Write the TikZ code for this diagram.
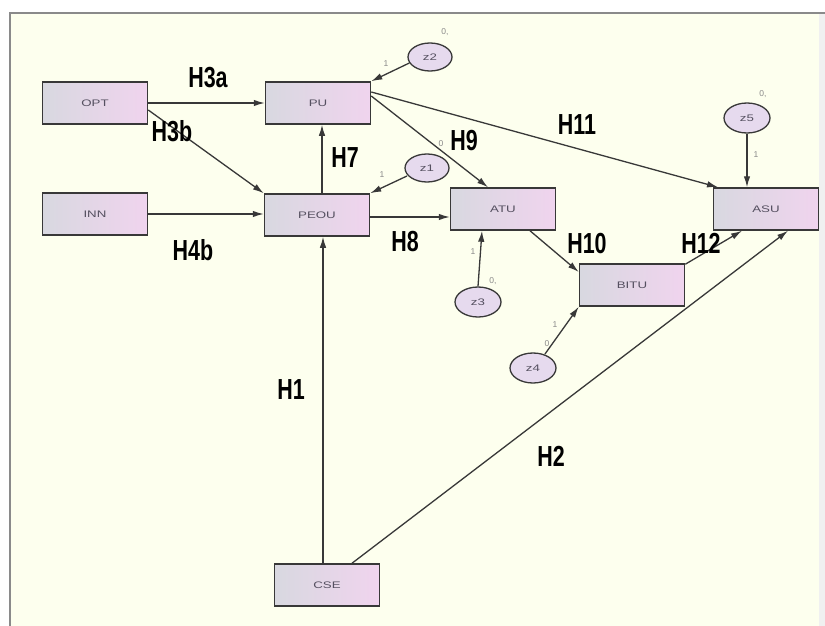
\documentclass[tikz,border=0pt]{standalone}
\usepackage{fontspec}
\usepackage{graphicx}
\setmainfont{Liberation Sans}
\usetikzlibrary{arrows.meta,shapes.geometric}
\definecolor{paper}{HTML}{FDFFEE}
\definecolor{frame}{HTML}{8A8A8A}
\definecolor{edge}{HTML}{383838}
\definecolor{boxleft}{HTML}{D8D8E0}
\definecolor{boxright}{HTML}{F0D4EE}
\definecolor{ovalfill}{HTML}{E6DAEE}
\definecolor{smalltxt}{HTML}{555060}
\newcommand{\vartxt}[1]{\scalebox{1.4}[1]{\fontsize{9.5}{9.5}\selectfont #1}}
\newcommand{\hyp}[1]{\scalebox{0.74}[1]{\fontsize{29}{29}\selectfont\bfseries #1}}
\tikzset{
  varbox/.style={draw=edge, line width=1.5pt, minimum width=105pt, minimum height=42pt,
    left color=boxleft, right color=boxright, text=smalltxt, inner sep=0pt},
  errov/.style={ellipse, draw=edge, line width=1.3pt, fill=ovalfill, text=smalltxt,
    minimum width=46pt, minimum height=30pt, inner sep=0pt},
  path/.style={draw=edge, line width=1.3pt, -{Latex[length=11pt,width=6.5pt]}},
  hlabel/.style={text=black, inner sep=0pt},
  tiny/.style={text=frame, font=\fontsize{8.5}{8.5}\selectfont, inner sep=0pt}
}
\begin{document}
\begin{tikzpicture}[x=1pt,y=-1pt]
\useasboundingbox (0,0) rectangle (825,626);
% canvas and window frame
\fill[white] (0,0) rectangle (825,626);
\fill[paper] (10,13) rectangle (822,626);
\fill[black!6] (819,13) rectangle (825,626);
\draw[frame, line width=2.2pt] (10,626) -- (10,13) -- (825,13);

% observed variables
\node[varbox] (OPT)  at (95,103)  {\vartxt{OPT}};
\node[varbox] (INN)  at (95,214)  {\vartxt{INN}};
\node[varbox] (PU)   at (318,103) {\vartxt{PU}};
\node[varbox] (PEOU) at (317,215) {\vartxt{PEOU}};
\node[varbox] (ATU)  at (503,209) {\vartxt{ATU}};
\node[varbox] (BITU) at (632,285) {\vartxt{BITU}};
\node[varbox] (ASU)  at (766,209) {\vartxt{ASU}};
\node[varbox] (CSE)  at (327,585) {\vartxt{CSE}};

% error terms
\node[errov, minimum width=44pt, minimum height=28pt] (z2) at (430,57)  {\vartxt{z2}};
\node[errov, minimum width=44pt, minimum height=28pt] (z1) at (427,168) {\vartxt{z1}};
\node[errov] (z5) at (747,118) {\vartxt{z5}};
\node[errov] (z3) at (478,302) {\vartxt{z3}};
\node[errov] (z4) at (533,368) {\vartxt{z4}};

% structural paths
\draw[path] (OPT.east) -- (PU.west);
\draw[path] ([yshift=-7pt]OPT.east) -- (PEOU.north west);
\draw[path] (INN.east) -- (INN.east -| PEOU.west);
\draw[path] ([xshift=5pt]PEOU.north) -- ([xshift=5pt]PEOU.north |- PU.south);
\draw[path] ([yshift=-2pt]PEOU.east) -- ([yshift=-2pt]PEOU.east -| ATU.west);
\draw[path] ([yshift=7pt]PU.east) -- ([xshift=-15pt]ATU.north);
\draw[path] ([yshift=11pt]PU.east) -- ([xshift=-48pt]ASU.north);
\draw[path] ([xshift=27pt]ATU.south) -- ([yshift=13pt]BITU.west);
\draw[path] ([yshift=-1pt]BITU.north east) -- ([xshift=-24pt]ASU.south);
\draw[path] ([xshift=-4pt]CSE.north) -- ([xshift=-4pt]CSE.north |- PEOU.south);
\draw[path] ([xshift=25pt]CSE.north) -- ([xshift=22pt]ASU.south);

% disturbance paths
\draw[path] (z2.west) ++(2pt,-6pt) coordinate (z2s) (z2s) -- (PU.north east);
\draw[path] (z1) ++(-20pt,-8pt) coordinate (z1s) (z1s) -- (PEOU.north east);
\draw[path] (z5.south) -- (z5.south |- ASU.north);
\draw[path] (z3.north) -- ([xshift=-21pt]ATU.south);
\draw[path] (z4) ++(12pt,14pt) coordinate (z4s) (z4s) -- (BITU.south west);

% hypothesis labels
\node[hlabel] (lH3a) at (208,78)  {\hyp{H3a}};
\node[hlabel] (lH3b) at (172,131) {\hyp{H3b}};
\node[hlabel] (lH4b) at (193,250) {\hyp{H4b}};
\node[hlabel] (lH7)  at (345,158) {\hyp{H7}};
\node[hlabel] (lH8)  at (405,242) {\hyp{H8}};
\node[hlabel] (lH9)  at (464,141) {\hyp{H9}};
\node[hlabel] (lH11) at (577,125) {\hyp{H11}};
\node[hlabel] (lH10) at (587,244) {\hyp{H10}};
\node[hlabel] (lH12) at (701,243) {\hyp{H12}};
\node[hlabel] (lH1)  at (291,390) {\hyp{H1}};
\node[hlabel] (lH2)  at (551,456) {\hyp{H2}};

% regression weights and means
\node[tiny] (m2) at (445,32)  {0,};
\node[tiny] (w2) at (386,64)  {1};
\node[tiny] (m1) at (441,144) {0};
\node[tiny] (w1) at (382,175) {1};
\node[tiny] (m5) at (763,94)  {0,};
\node[tiny] (w5) at (756,155) {1};
\node[tiny] (w3) at (473,252) {1};
\node[tiny] (m3) at (493,281) {0,};
\node[tiny] (w4) at (555,325) {1};
\node[tiny] (m4) at (547,344) {0};
\end{tikzpicture}
\end{document}
